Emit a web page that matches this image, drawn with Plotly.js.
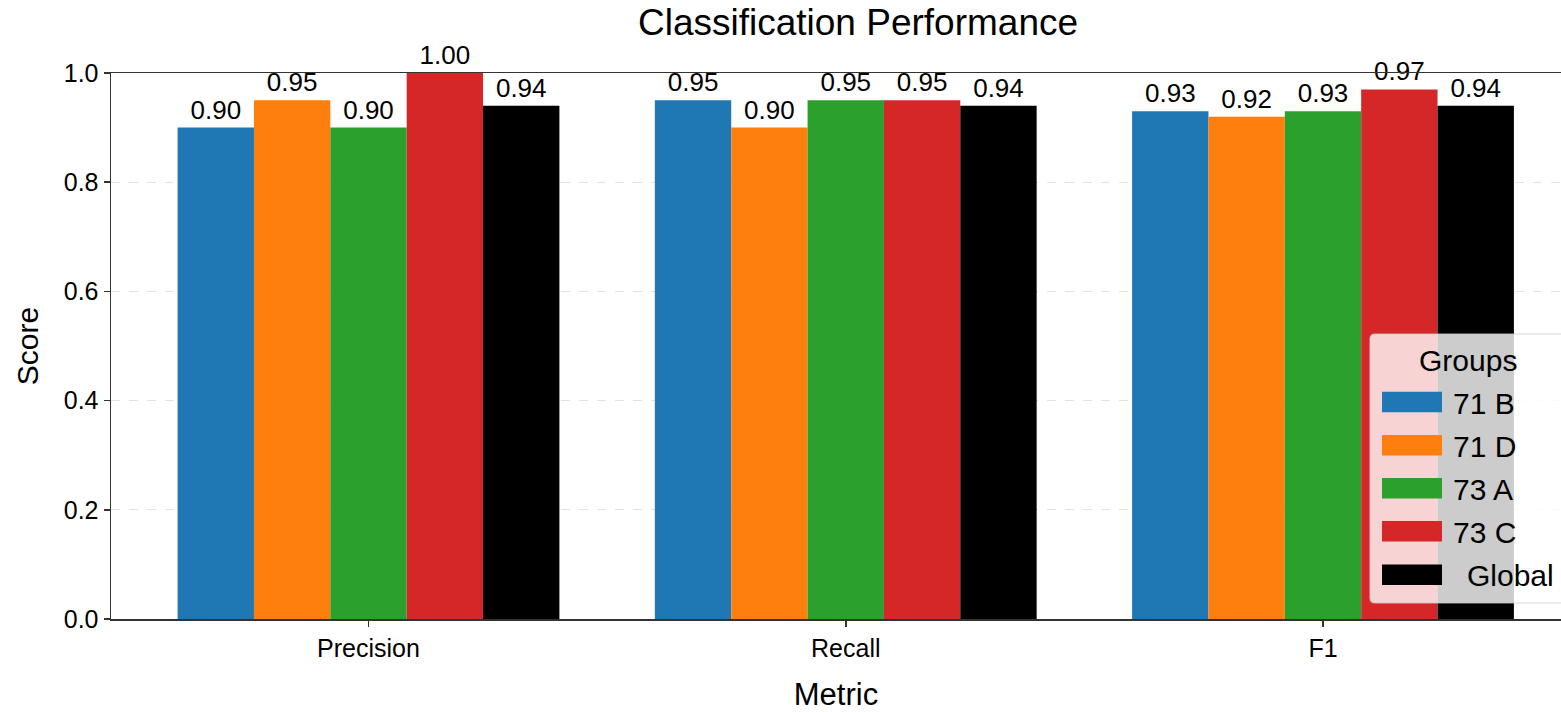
<!DOCTYPE html>
<html>
<head>
<meta charset="utf-8">
<script src="https://cdn.plot.ly/plotly-3.0.1.min.js"></script>
<style>
html,body{margin:0;padding:0;background:#fff;}
#chart{width:1561px;height:712px;}
</style>
</head>
<body>
<div id="chart"></div>
<script>
// ---- data ----
const metrics = ["Precision", "Recall", "F1"];
const groups = ["71 B", "71 D", "73 A", "73 C", "Global"];
const scores_71B = [0.90, 0.95, 0.93];
const scores_71D = [0.95, 0.90, 0.92];
const scores_73A = [0.90, 0.95, 0.93];
const scores_73C = [1.00, 0.95, 0.97];
const scores_Global = [0.94, 0.94, 0.94];
const yTicks = [0.0, 0.2, 0.4, 0.6, 0.8, 1.0];
const yTickText = ["0.0", "0.2", "0.4", "0.6", "0.8", "1.0"];
const colors = ["#1f77b4", "#ff7f0e", "#2ca02c", "#d62728", "#000000"];
const seriesValues = [scores_71B, scores_71D, scores_73A, scores_73C, scores_Global];

const FONT = '"Liberation Sans", Arial, Helvetica, sans-serif';

const W = 1561, H = 712;
const ML = 111, MR = 0, MT = 73, MB = 93;
const PW = W - ML - MR, PH = H - MT - MB;

const traces = groups.map((g, i) => ({
  type: 'bar',
  name: g,
  x: metrics,
  y: seriesValues[i],
  marker: {color: colors[i], line: {width: 0}},
  texttemplate: '%{y:.2f}',
  textposition: 'outside',
  textfont: {family: FONT, size: 26, color: '#000'},
  constraintext: 'none',
  cliponaxis: false,
  showlegend: false,
  hoverinfo: 'x+y+name'
}));

// helper: pixel -> paper
const px = v => (v - ML) / PW;
const py = v => (H - MB - v) / PH;

// custom legend (matplotlib-style)
const legL = 1370, legT = 334, legB = 603, legR = 1600, r = 5;
function roundedRect(l, t, rr, b, rad) {
  const ax = rad / PW, ay = rad / PH;
  const L = px(l), R = px(rr), T = py(t), B = py(b);
  return `M ${L + ax} ${T} L ${R - ax} ${T} Q ${R} ${T} ${R} ${T - ay} L ${R} ${B + ay} Q ${R} ${B} ${R - ax} ${B} L ${L + ax} ${B} Q ${L} ${B} ${L} ${B + ay} L ${L} ${T - ay} Q ${L} ${T} ${L + ax} ${T} Z`;
}
const shapes = [{
  type: 'path', xref: 'paper', yref: 'paper', layer: 'above',
  path: roundedRect(legL, legT, legR, legB, r),
  fillcolor: 'rgba(255,255,255,0.8)',
  line: {color: 'rgba(204,204,204,0.8)', width: 1.2}
}];
const annotations = [{
  xref: 'paper', yref: 'paper', x: px(1467.5), y: py(360),
  text: 'Groups', showarrow: false, xanchor: 'center', yanchor: 'middle',
  font: {family: FONT, size: 30, color: '#000'}
}];
const rowY = [402, 445.3, 488.3, 531.3, 574.7];
groups.forEach((g, i) => {
  shapes.push({
    type: 'rect', xref: 'paper', yref: 'paper', layer: 'above',
    x0: px(1382), x1: px(1442), y0: py(rowY[i] - 10.3), y1: py(rowY[i] + 10.3),
    fillcolor: colors[i], line: {width: 0}
  });
  annotations.push({
    xref: 'paper', yref: 'paper',
    x: px(g === 'Global' ? 1465 : 1451), y: py(rowY[i] + 1),
    text: g, showarrow: false, xanchor: 'left', yanchor: 'middle',
    font: {family: FONT, size: 30, color: '#000'}
  });
});

const layout = {
  width: W, height: H,
  margin: {l: ML, r: MR, t: MT, b: MB, pad: 0, autoexpand: false},
  paper_bgcolor: '#fff', plot_bgcolor: '#fff',
  font: {family: FONT, color: '#000'},
  barmode: 'group', bargap: 0.2, bargroupgap: 0,
  title: {
    text: 'Classification Performance',
    font: {family: FONT, size: 37, color: '#000'},
    xref: 'container', x: 858 / W, xanchor: 'center',
    yref: 'container', y: 1 - 22 / H, yanchor: 'middle'
  },
  xaxis: {
    type: 'category',
    range: [(ML - 368.5) / 477.25, (W - 368.5) / 477.25],
    showline: true, linecolor: '#333', linewidth: 1.5, mirror: true,
    ticks: 'outside', ticklen: 6, tickwidth: 1.5, tickcolor: '#333',
    showgrid: false, zeroline: false,
    tickfont: {family: FONT, size: 25, color: '#000'},
    title: {text: 'Metric', font: {family: FONT, size: 31, color: '#000'}, standoff: 34},
    automargin: false, fixedrange: true
  },
  yaxis: {
    range: [0, 1],
    tickvals: yTicks, ticktext: yTickText,
    showline: true, linecolor: '#333', linewidth: 1.5, mirror: false,
    ticks: 'outside', ticklen: 6, tickwidth: 1.5, tickcolor: '#333',
    showgrid: true, gridcolor: '#e3e3e3', gridwidth: 1, griddash: 'dash',
    zeroline: false,
    tickfont: {family: FONT, size: 25, color: '#000'},
    title: {text: 'Score', font: {family: FONT, size: 30, color: '#000'}, standoff: 16},
    automargin: false, fixedrange: true
  },
  shapes: shapes,
  annotations: annotations,
  showlegend: false
};

Plotly.newPlot('chart', traces, layout, {displayModeBar: false, staticPlot: true});
</script>
</body>
</html>
